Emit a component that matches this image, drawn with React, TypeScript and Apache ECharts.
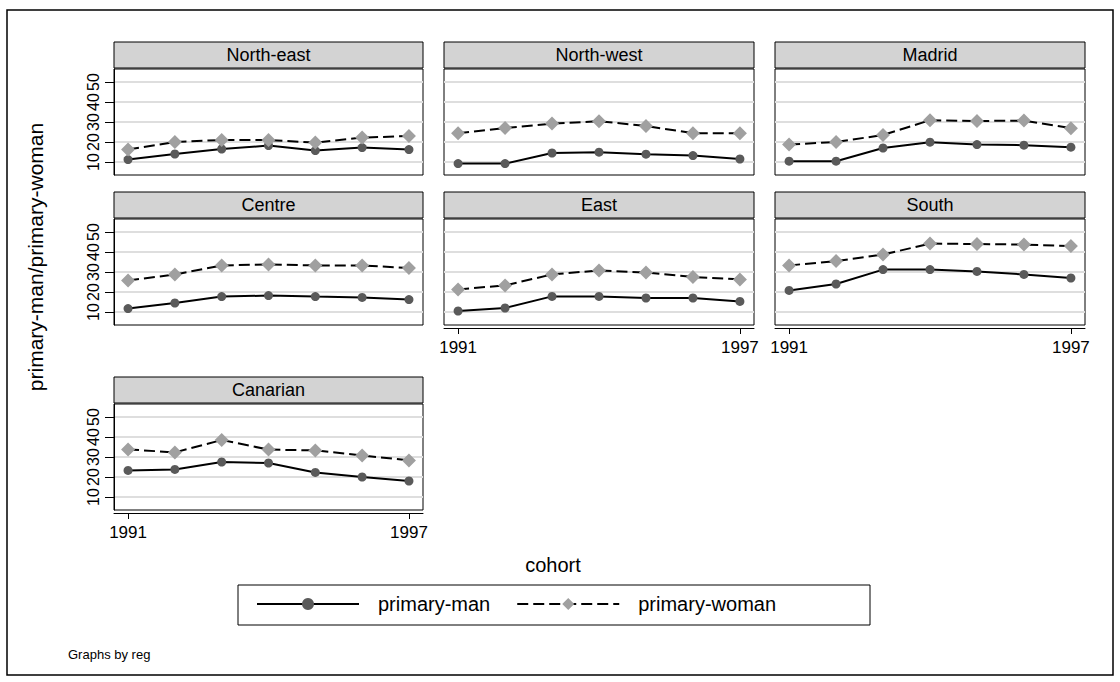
import React, { useEffect, useRef } from "react";
import * as echarts from "echarts";

const years = [1991, 1992, 1993, 1994, 1995, 1996, 1997];
const regions = ["North-east", "North-west", "Madrid", "Centre", "East", "South", "Canarian"];
const manNorthEast = [11.2, 14.0, 16.5, 18.2, 15.7, 17.2, 16.2];
const womanNorthEast = [16.3, 20.0, 21.0, 21.0, 19.7, 22.2, 23.0];
const manNorthWest = [9.2, 9.2, 14.5, 14.9, 13.9, 13.2, 11.5];
const womanNorthWest = [24.4, 27.0, 29.2, 30.4, 28.0, 24.4, 24.4];
const manMadrid = [10.4, 10.4, 17.0, 19.9, 18.7, 18.4, 17.4];
const womanMadrid = [18.7, 20.0, 23.5, 30.9, 30.5, 30.7, 26.9];
const manCentre = [11.7, 14.5, 17.7, 18.2, 17.7, 17.3, 16.2];
const womanCentre = [25.8, 28.7, 33.3, 33.8, 33.3, 33.3, 32.0];
const manEast = [10.5, 12.0, 17.8, 17.8, 17.0, 17.0, 15.3];
const womanEast = [21.3, 23.3, 28.8, 30.8, 29.7, 27.5, 26.3];
const manSouth = [20.8, 24.0, 31.2, 31.2, 30.3, 28.8, 27.0];
const womanSouth = [33.3, 35.5, 38.7, 44.2, 44.0, 43.7, 43.0];
const manCanarian = [23.3, 23.8, 27.5, 27.0, 22.3, 20.0, 18.0];
const womanCanarian = [33.8, 32.3, 38.5, 33.7, 33.3, 30.8, 28.3];
const yTicks = [10, 20, 30, 40, 50];
const xTicks = [1991, 1997];
const manName = "primary-man";
const womanName = "primary-woman";

const manSeries = [manNorthEast, manNorthWest, manMadrid, manCentre, manEast, manSouth, manCanarian];
const womanSeries = [womanNorthEast, womanNorthWest, womanMadrid, womanCentre, womanEast, womanSouth, womanCanarian];

const FONT = "'Liberation Sans', Arial, sans-serif";
const colLeft = [114, 444, 775];
const colWidth = [309, 310, 310];
const rowTop = [69, 219, 404];
const plotH = 106;
const headerH = 26;

export default function App() {
  const ref = useRef<HTMLDivElement>(null);
  useEffect(() => {
    if (!ref.current) return;
    const chart = echarts.init(ref.current, null, { renderer: "svg" });
    const grids: any[] = [];
    const xAxes: any[] = [];
    const yAxes: any[] = [];
    const series: any[] = [];
    const graphics: any[] = [];

    regions.forEach((name, i) => {
      const col = i % 3;
      const row = Math.floor(i / 3);
      const left = colLeft[col];
      const top = rowTop[row];
      const width = colWidth[col];
      const showY = col === 0;
      const showX = i >= 4;
      grids.push({
        left, top, width, height: plotH,
        show: true, borderColor: "#000", borderWidth: 1, backgroundColor: "#fff",
      });
      xAxes.push({
        type: "value", gridIndex: i, min: 1990.7, max: 1997.3,
        offset: showX ? 3 : 0,
        axisLine: { show: showX, lineStyle: { color: "#000", width: 1 } },
        axisTick: { show: showX, customValues: xTicks, length: 6, lineStyle: { color: "#000" } },
        axisLabel: {
          show: showX, customValues: xTicks, fontSize: 17, color: "#000", fontFamily: FONT, margin: 11,
          formatter: (v: number) => String(v),
        },
        splitLine: { show: false },
      });
      yAxes.push({
        type: "value", gridIndex: i, min: 3.5, max: 56.5,
        axisLine: { show: showY, lineStyle: { color: "#000", width: 1 } },
        axisTick: { show: showY, customValues: yTicks, length: 9, lineStyle: { color: "#000" } },
        axisLabel: {
          show: showY, customValues: yTicks, rotate: 90, fontSize: 16, color: "#000", fontFamily: FONT, margin: 13,
          formatter: (v: number) => String(v),
        },
        splitLine: { show: true, lineStyle: { color: "#dedede", width: 2 } },
      });
      series.push({
        name: manName, type: "line", xAxisIndex: i, yAxisIndex: i,
        data: years.map((y, k) => [y, manSeries[i][k]]),
        symbol: "circle", symbolSize: 9,
        itemStyle: { color: "#5a5a5a" },
        lineStyle: { color: "#000", width: 2 },
        z: 3,
      });
      series.push({
        name: womanName, type: "line", xAxisIndex: i, yAxisIndex: i,
        data: years.map((y, k) => [y, womanSeries[i][k]]),
        symbol: "diamond", symbolSize: 14,
        itemStyle: { color: "#a0a0a0" },
        lineStyle: { color: "#000", width: 2, type: [11, 5] },
        z: 4,
      });
      graphics.push({
        type: "rect",
        shape: { x: left, y: top - headerH - 1, width, height: headerH },
        style: { fill: "#d3d3d3", stroke: "#000", lineWidth: 1 },
      });
      graphics.push({
        type: "text",
        x: left + width / 2, y: top - 1 - headerH / 2,
        style: { text: name, fontSize: 18, fontFamily: FONT, fill: "#000", textAlign: "center", textVerticalAlign: "middle" },
      });
    });

    graphics.push({
      type: "rect", shape: { x: 7, y: 10, width: 1106, height: 665 },
      style: { fill: "none", stroke: "#000", lineWidth: 1.5 }, z: -1,
    });
    graphics.push({
      type: "text", x: 35, y: 257, rotation: Math.PI / 2,
      style: { text: "primary-man/primary-woman", fontSize: 21, fontFamily: FONT, fill: "#000", textAlign: "center", textVerticalAlign: "middle" },
    });
    graphics.push({
      type: "text", x: 553, y: 565,
      style: { text: "cohort", fontSize: 20, fontFamily: FONT, fill: "#000", textAlign: "center", textVerticalAlign: "middle" },
    });
    graphics.push({
      type: "rect", shape: { x: 238, y: 585, width: 632, height: 40 },
      style: { fill: "#fff", stroke: "#000", lineWidth: 1 }, z: -1,
    });
    graphics.push({
      type: "text", x: 68, y: 654,
      style: { text: "Graphs by reg", fontSize: 13, fontFamily: FONT, fill: "#000", textAlign: "left", textVerticalAlign: "middle" },
    });

    chart.setOption({
      animation: false,
      backgroundColor: "#fff",
      grid: grids,
      xAxis: xAxes,
      yAxis: yAxes,
      series,
      legend: {
        data: [manName, womanName],
        left: 256, top: 594,
        itemWidth: 102, itemHeight: 15, itemGap: 26,
        padding: 0,
        textStyle: { fontSize: 20, fontFamily: FONT, color: "#000", padding: [0, 0, 0, 14] },
      },
      graphic: graphics,
    });
    return () => chart.dispose();
  }, []);
  return <div ref={ref} style={{ position: "fixed", left: 0, top: 0, width: 1120, height: 682 }} />;
}
